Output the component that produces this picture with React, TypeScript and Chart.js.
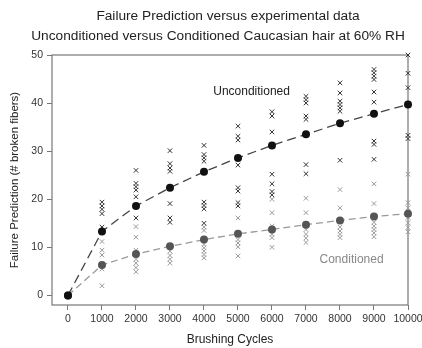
import React, { useEffect, useRef } from "react";
import { Chart, registerables } from "chart.js";

Chart.register(...registerables);

// ---- Data ----
const cycles = [0, 1000, 2000, 3000, 4000, 5000, 6000, 7000, 8000, 9000, 10000];
const unconditionedMean = [0, 13.3, 18.6, 22.4, 25.7, 28.6, 31.2, 33.5, 35.8, 37.8, 39.7];
const conditionedMean = [0, 6.3, 8.6, 10.2, 11.6, 12.8, 13.7, 14.7, 15.6, 16.4, 17.0];
const yTickValues = [0, 10, 20, 30, 40, 50];

const sampleCycles = [1000, 2000, 3000, 4000, 5000, 6000, 7000, 8000, 9000, 10000];
const unconditionedSamples = [
  [19.4, 18.6, 17.9, 17.0, 14.2],
  [26.0, 23.3, 22.6, 21.9, 20.5, 16.1],
  [30.1, 27.4, 26.5, 25.8, 19.1, 16.1, 15.2],
  [31.2, 29.3, 28.6, 27.9, 19.4, 18.7, 18.0, 15.0],
  [35.2, 33.1, 32.3, 27.1, 22.4, 21.7, 19.3, 18.6],
  [38.2, 37.3, 34.0, 25.2, 23.2, 21.6, 20.9],
  [41.4, 40.7, 40.0, 37.3, 36.6, 27.2, 25.3],
  [44.2, 42.1, 40.4, 39.7, 39.0, 38.3, 28.1],
  [47.0, 46.3, 45.6, 44.9, 42.3, 40.2, 32.1, 31.4, 28.3],
  [50.0, 46.2, 43.2, 33.3, 32.6],
];
const conditionedSamples = [
  [11.2, 9.4, 8.4, 5.5, 2.0],
  [14.3, 12.1, 9.4, 7.5, 6.7, 5.8, 4.9],
  [9.2, 8.3, 7.5, 6.7],
  [14.2, 13.5, 10.6, 9.9, 9.2, 8.5, 7.8],
  [16.1, 11.6, 10.9, 10.1, 8.2],
  [20.0, 17.2, 14.4, 12.7, 12.0, 10.0],
  [20.2, 17.2, 13.7, 12.7, 11.9, 11.0],
  [22.0, 18.2, 14.2, 13.4, 12.7, 12.0],
  [23.2, 19.1, 15.2, 14.4, 13.7, 13.0, 12.2],
  [25.2, 19.3, 18.2, 16.2, 15.1, 14.1, 13.2],
];

const titleLine1 = "Failure Prediction versus experimental data";
const titleLine2 = "Unconditioned versus Conditioned Caucasian hair at 60% RH";
const xAxisTitle = "Brushing Cycles";
const yAxisTitle = "Failure Prediction (# broken fibers)";
const seriesLabels = ["Unconditioned", "Conditioned"];
// label anchor points in data units
const labelAnchors = [
  { x: 5400, y: 42.4 },
  { x: 8340, y: 7.4 },
];

const FONT = "'Liberation Sans', Arial, sans-serif";

function toPoints(xs: number[], ys: number[]) {
  return xs.map((x, i) => ({ x, y: ys[i] }));
}
function samplePoints(samples: number[][]) {
  return samples.flatMap((vals, i) => vals.map((v) => ({ x: sampleCycles[i], y: v })));
}

const overlayPlugin = {
  id: "overlay",
  beforeDatasetsDraw(chart: any) {
    const { ctx, chartArea: a } = chart;
    ctx.save();
    ctx.strokeStyle = "#777";
    ctx.lineWidth = 1.2;
    ctx.strokeRect(a.left, a.top, a.right - a.left, a.bottom - a.top);
    ctx.restore();
  },
  afterDraw(chart: any) {
    const { ctx, scales } = chart;
    ctx.save();
    ctx.fillStyle = "#222";
    ctx.textAlign = "center";
    ctx.textBaseline = "middle";
    ctx.font = `13.7px ${FONT}`;
    ctx.fillText(titleLine1, 228, 16);
    ctx.fillText(titleLine2, 218, 36);
    ctx.font = `12px ${FONT}`;
    const colors = ["#222", "#888"];
    seriesLabels.forEach((t, i) => {
      ctx.fillStyle = colors[i];
      ctx.fillText(
        t,
        scales.x.getPixelForValue(labelAnchors[i].x),
        scales.y.getPixelForValue(labelAnchors[i].y)
      );
    });
    ctx.restore();
  },
};

export default function App() {
  const ref = useRef<HTMLCanvasElement | null>(null);

  useEffect(() => {
    document.body.style.margin = "0";
    if (!ref.current) return;
    const chart = new Chart(ref.current, {
      type: "scatter",
      data: {
        datasets: [
          {
            label: "Unconditioned mean",
            data: toPoints(cycles, unconditionedMean),
            showLine: true,
            borderColor: "#444",
            borderWidth: 1.3,
            borderDash: [9, 5],
            pointRadius: 4,
            pointBackgroundColor: "#111",
            pointBorderWidth: 0,
            tension: 0,
            order: 0,
            clip: false,
          },
          {
            label: "Conditioned mean",
            data: toPoints(cycles, conditionedMean),
            showLine: true,
            borderColor: "#9a9a9a",
            borderWidth: 1.3,
            borderDash: [7, 4],
            pointRadius: 4,
            pointBackgroundColor: "#555",
            pointBorderWidth: 0,
            tension: 0,
            order: 0,
            clip: false,
          },
          {
            label: "Unconditioned samples",
            data: samplePoints(unconditionedSamples),
            pointStyle: "crossRot",
            pointRadius: 3.2,
            pointBorderColor: "#333",
            borderColor: "#333",
            pointBorderWidth: 1,
            order: 1,
            clip: false,
          },
          {
            label: "Conditioned samples",
            data: samplePoints(conditionedSamples),
            pointStyle: "crossRot",
            pointRadius: 3.2,
            pointBorderColor: "#999",
            borderColor: "#999",
            pointBorderWidth: 1,
            order: 1,
            clip: false,
          },
        ],
      },
      options: {
        animation: false,
        responsive: false,
        devicePixelRatio: 1,
        layout: { padding: { top: 55, right: 14, bottom: 0, left: 0 } },
        plugins: {
          legend: { display: false },
          tooltip: { enabled: false },
          title: { display: false },
        },
        scales: {
          x: {
            type: "linear",
            min: -470,
            max: 10000,
            afterBuildTicks: (s: any) => {
              s.ticks = cycles.map((v) => ({ value: v }));
            },
            afterFit: (s: any) => {
              s.height = 43;
              s.paddingLeft = 0;
              s.paddingRight = 0;
            },
            ticks: {
              autoSkip: false,
              maxRotation: 0,
              color: "#333",
              padding: 3,
              font: { family: FONT, size: 10.5 },
              callback: (v: any) => String(v),
            },
            grid: {
              drawOnChartArea: false,
              drawTicks: true,
              tickLength: 5,
              tickColor: "#777",
            },
            border: { display: false },
            title: {
              display: true,
              text: xAxisTitle,
              color: "#222",
              font: { family: FONT, size: 12 },
              padding: { top: 0, bottom: 1 },
            },
          },
          y: {
            type: "linear",
            min: -2,
            max: 50,
            afterBuildTicks: (s: any) => {
              s.ticks = yTickValues.map((v) => ({ value: v }));
            },
            afterFit: (s: any) => {
              s.width = 52;
              s.paddingTop = 0;
              s.paddingBottom = 0;
            },
            ticks: {
              color: "#333",
              padding: 4,
              font: { family: FONT, size: 10.5 },
              callback: (v: any) => String(v),
            },
            grid: {
              drawOnChartArea: false,
              drawTicks: true,
              tickLength: 5,
              tickColor: "#777",
            },
            border: { display: false },
            title: {
              display: true,
              text: yAxisTitle,
              color: "#222",
              font: { family: FONT, size: 11.5 },
              padding: { top: 8, bottom: 0 },
            },
          },
        },
      },
      plugins: [overlayPlugin],
    });
    return () => chart.destroy();
  }, []);

  return <canvas ref={ref} width={422} height={348} style={{ display: "block" }} />;
}
